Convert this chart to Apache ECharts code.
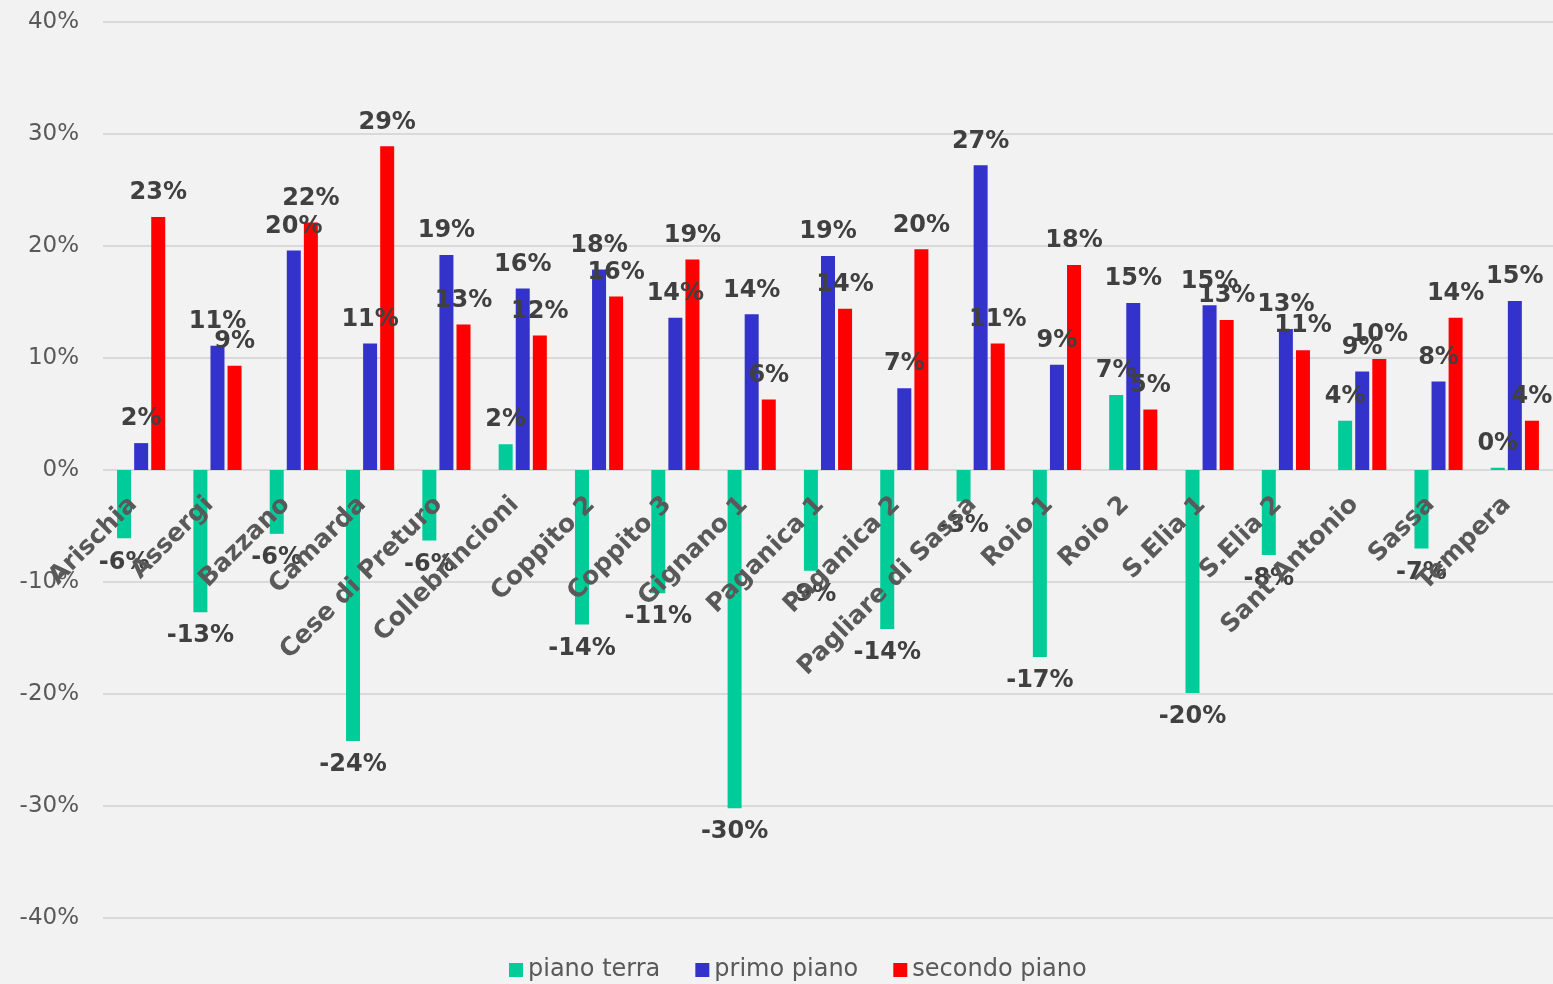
<!DOCTYPE html>
<html>
<head>
<meta charset="utf-8">
<script src="https://cdn.jsdelivr.net/npm/echarts@6/dist/echarts.min.js"></script>
<style>
html,body{margin:0;padding:0;background:#f2f2f2;}
#chart{width:1553px;height:984px;}
</style>
</head>
<body>
<div id="chart"></div>
<script>
var categories = ["Arischia","Assergi","Bazzano","Camarda","Cese di Preturo","Collebrincioni","Coppito 2","Coppito 3","Gignano 1","Paganica 1","Paganica 2","Pagliare di Sassa","Roio 1","Roio 2","S.Elia 1","S.Elia 2","Sant'Antonio","Sassa","Tempera"];
var pianoTerra = [-0.061,-0.127,-0.057,-0.242,-0.063,0.023,-0.138,-0.11,-0.302,-0.09,-0.142,-0.028,-0.167,0.067,-0.199,-0.076,0.044,-0.07,0.002];
var primoPiano = [0.024,0.111,0.196,0.113,0.192,0.162,0.179,0.136,0.139,0.191,0.073,0.272,0.094,0.149,0.147,0.126,0.088,0.079,0.151];
var secondoPiano = [0.226,0.093,0.221,0.289,0.130,0.120,0.155,0.188,0.063,0.144,0.197,0.113,0.183,0.054,0.134,0.107,0.099,0.136,0.044];
var yTicks = {min:-0.4, max:0.4, interval:0.1};

var chart = echarts.init(document.getElementById('chart'), null, {renderer:'canvas'});
function pct(v){ return Math.round(v*100) + '%'; }
function mkData(arr){
  return arr.map(function(v){
    return {value:v, label:{position: v < 0 ? 'bottom' : 'top'}};
  });
}
var labelStyle = {
  show:true,
  formatter:function(p){ return pct(p.value); },
  fontFamily:'DejaVu Sans', fontWeight:'bold', fontSize:24, color:'#404040', distance:12
};
var gridTop = 22, gridBottom = 66, H = 984;
var zeroOffset = -(H - gridTop - gridBottom) / 2;
var option = {
  backgroundColor:'#f2f2f2',
  animation:false,
  grid:{left:103, right:0, top:gridTop, bottom:gridBottom, containLabel:false, outerBoundsMode:'none'},
  legend:{
    bottom:-3, left:504, itemWidth:14, itemHeight:14, itemGap:35,
    icon:'rect',
    textStyle:{fontFamily:'DejaVu Sans', fontSize:24, color:'#595959'},
    data:['piano terra','primo piano','secondo piano']
  },
  xAxis:{
    type:'category', data:categories,
    position:'bottom', offset:zeroOffset, z:10,
    axisLine:{onZero:false, show:false},
    axisTick:{show:false},
    axisLabel:{interval:0, rotate:45, fontFamily:'DejaVu Sans', fontWeight:'bold', fontSize:25, color:'#595959', margin:23, padding:[0,11,0,0]}
  },
  yAxis:{
    type:'value', min:yTicks.min, max:yTicks.max, interval:yTicks.interval,
    axisLine:{show:false}, axisTick:{show:false},
    splitLine:{lineStyle:{color:'#d9d9d9', width:2}},
    axisLabel:{formatter:function(v){ return Math.round(v*100)+'%'; }, fontFamily:'DejaVu Sans', fontSize:23, color:'#595959', margin:24}
  },
  series:[
    {name:'piano terra', type:'bar', data:mkData(pianoTerra), itemStyle:{color:'#00CC99'}, barWidth:14, barGap:'22%', label:labelStyle},
    {name:'primo piano', type:'bar', data:mkData(primoPiano), itemStyle:{color:'#3333CC'}, barWidth:14, barGap:'22%', label:labelStyle},
    {name:'secondo piano', type:'bar', data:mkData(secondoPiano), itemStyle:{color:'#FF0000'}, barWidth:14, barGap:'22%', label:labelStyle}
  ]
};
chart.setOption(option);
</script>
</body>
</html>
